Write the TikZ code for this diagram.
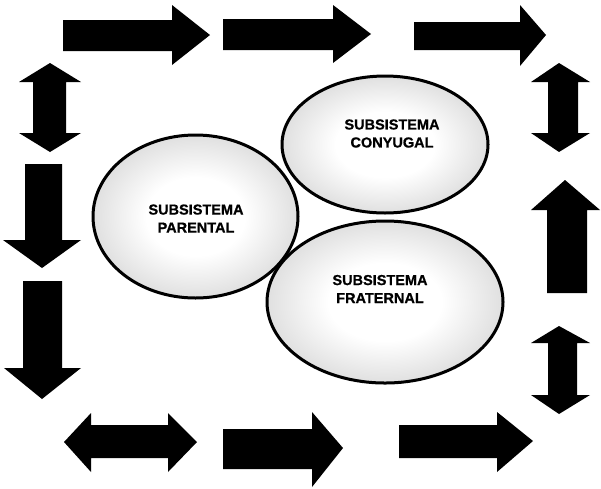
\documentclass[tikz,border=0pt]{standalone}
\usepackage{fontspec}
\setmainfont{Liberation Sans}
\newfontfamily\heavyfont[BoldFeatures={FakeBold=0.8}]{Liberation Sans}
\usetikzlibrary{shapes.geometric}
\pgfdeclareradialshading{stipple}{\pgfpoint{0bp}{0bp}}{color(0bp)=(white); color(12bp)=(white); color(30bp)=(black!17); color(50bp)=(black!26)}
\begin{document}
\begin{tikzpicture}[x=1pt,y=-1pt,
  blockarrow/.style={fill=black},
  subsys/.style={ellipse, inner sep=0pt, shade, shading=stipple},
  rim/.style={draw=black, line width=3pt},
  sublabel/.style={font=\heavyfont\bfseries\fontsize{14.5}{18}\selectfont, align=center, inner sep=0pt}]
\useasboundingbox (0,0) rectangle (601,488);

% ---- subsystems (fills) ----
\node[subsys, minimum width=205pt, minimum height=163pt] (par) at (195.5,216.5) {};
\node[subsys, minimum width=206pt, minimum height=137pt] (con) at (385,144.5) {};
\node[subsys, minimum width=236pt, minimum height=162pt] (fra) at (385,302) {};
% ---- outlines ----
\draw[rim] (par.center) ellipse [x radius=102.5pt, y radius=81.5pt];
\draw[rim] (con.center) ellipse [x radius=103pt, y radius=68.5pt];
\draw[rim] (fra.center) ellipse [x radius=118pt, y radius=81pt];
% ---- labels ----
\node[sublabel] (parT) at (196,218.5) {SUBSISTEMA\\PARENTAL};
\node[sublabel] (conT) at (392,133.5) {SUBSISTEMA\\CONYUGAL};
\node[sublabel] (fraT) at (380,289) {SUBSISTEMA\\FRATERNAL};

% ---- top row ----
\fill[blockarrow] (63,20) -- (172,20) -- (172,5) -- (210,35) -- (172,65) -- (172,51) -- (63,51) -- cycle;
\fill[blockarrow] (223,19) -- (333,19) -- (333,5) -- (371,34) -- (333,63) -- (333,50) -- (223,50) -- cycle;
\fill[blockarrow] (414,22) -- (520,22) -- (520,5) -- (546,35) -- (520,66) -- (520,50) -- (414,50) -- cycle;

% ---- left column ----
\fill[blockarrow] (50,63) -- (81,82) -- (66,82) -- (66,133) -- (81,133) -- (50,152) -- (19,133) -- (33,133) -- (33,82) -- (19,82) -- cycle;
\fill[blockarrow] (25,164) -- (62,164) -- (62,240) -- (81,240) -- (42,268) -- (3,240) -- (25,240) -- cycle;
\fill[blockarrow] (23,281) -- (62,281) -- (62,368) -- (81,368) -- (42,399) -- (4,368) -- (23,368) -- cycle;

% ---- bottom row ----
\fill[blockarrow] (64,442) -- (91,413) -- (91,425) -- (168,425) -- (168,413) -- (197,442) -- (168,472) -- (168,458) -- (91,458) -- (91,472) -- cycle;
\fill[blockarrow] (223,429) -- (312,429) -- (312,412) -- (343,448) -- (312,487) -- (312,469) -- (223,469) -- cycle;
\fill[blockarrow] (399,425) -- (497,425) -- (497,412) -- (533,441) -- (497,472) -- (497,458) -- (399,458) -- cycle;

% ---- right column ----
\fill[blockarrow] (559,63) -- (590,82) -- (578,82) -- (578,133) -- (590,133) -- (559,152) -- (531,133) -- (548,133) -- (548,82) -- (531,82) -- cycle;
\fill[blockarrow] (565,180) -- (600,210) -- (587,210) -- (587,293) -- (547,293) -- (547,210) -- (531,210) -- cycle;
\fill[blockarrow] (559,326) -- (590,343) -- (577,343) -- (577,395) -- (590,395) -- (559,414) -- (531,395) -- (548,395) -- (548,343) -- (531,343) -- cycle;
\end{tikzpicture}
\end{document}
